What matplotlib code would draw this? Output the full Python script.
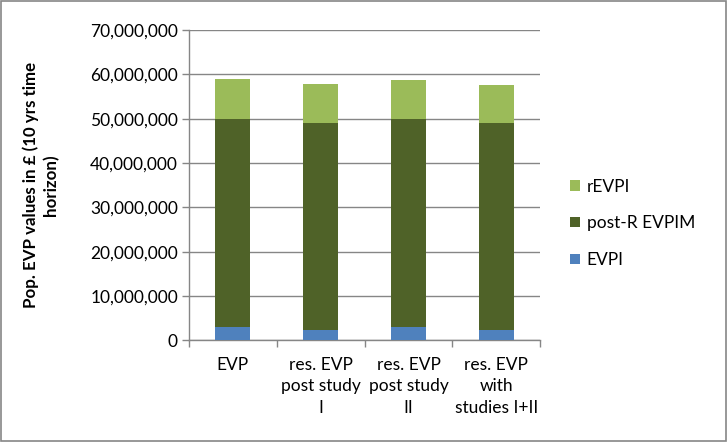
import matplotlib
matplotlib.use('Agg')
from matplotlib import pyplot as plt
from matplotlib.patches import Rectangle
from matplotlib.ticker import FuncFormatter, FixedLocator
import numpy as np

plt.rcParams['font.family'] = ['Lato', 'DejaVu Sans']

# categories and stacked series (values in £)
categories = ['EVP', 'res. EVP\npost study\nI', 'res. EVP\npost study\nII', 'res. EVP\nwith\nstudies I+II']
evpi = [2950000, 2300000, 2950000, 2300000]
post_r_evpim = [46900000, 46700000, 46900000, 46700000]
r_evpi = [9200000, 8900000, 8800000, 8600000]

c_evpi = '#4F81BD'
c_post = '#4F6228'
c_r = '#9BBB59'
grey = '#868686'

fig = plt.figure(figsize=(7.27, 4.42), dpi=100)
ax = fig.add_axes([0.26, 0.230, 0.483, 0.702])

x = np.arange(len(categories))
w = 0.4
ax.bar(x, evpi, w, color=c_evpi, label='EVPI', zorder=3)
ax.bar(x, post_r_evpim, w, bottom=evpi, color=c_post, label='post-R EVPIM', zorder=3)
bot2 = [a + b for a, b in zip(evpi, post_r_evpim)]
ax.bar(x, r_evpi, w, bottom=bot2, color=c_r, label='rEVPI', zorder=3)

ax.set_xlim(-0.5, len(categories) - 0.5)
ax.set_ylim(0, 70000000)
ax.set_yticks(np.arange(0, 70000001, 10000000))
ax.yaxis.set_major_formatter(FuncFormatter(lambda v, p: f'{int(v):,}'))
ax.yaxis.grid(True, color=grey, linewidth=1)
ax.set_axisbelow(True)

ax.set_xticks(x)
ax.set_xticklabels(categories, fontsize=12.5, linespacing=1.42)
ax.tick_params(axis='x', which='major', length=0, pad=12)
ax.xaxis.set_minor_locator(FixedLocator(np.arange(-0.5, len(categories), 1)))
ax.tick_params(axis='x', which='minor', length=5, color=grey, width=1)
ax.tick_params(axis='y', length=5, color=grey, width=1, labelsize=12.5, pad=3)

for s in ['top', 'right']:
    ax.spines[s].set_visible(False)
for s in ['left', 'bottom']:
    ax.spines[s].set_color(grey)
    ax.spines[s].set_linewidth(1)

ax.set_ylabel('Pop. EVP values in £ (10 yrs time\nhorizon)', fontsize=12.2,
              fontweight='bold', linespacing=1.3)
ax.yaxis.set_label_coords(-0.37, 0.5)

handles, labels = ax.get_legend_handles_labels()
ax.legend(handles[::-1], labels[::-1], loc='center left', bbox_to_anchor=(1.085, 0.377),
          frameon=False, fontsize=12.5, labelspacing=1.2, handlelength=0.55,
          handleheight=0.55, handletextpad=0.4, borderpad=0, borderaxespad=0)

fig.patches.append(Rectangle((0.002, 0.003), 0.996, 0.994, transform=fig.transFigure,
                             fill=False, edgecolor=grey, linewidth=1.2))

fig.savefig('out.png', dpi=100)
